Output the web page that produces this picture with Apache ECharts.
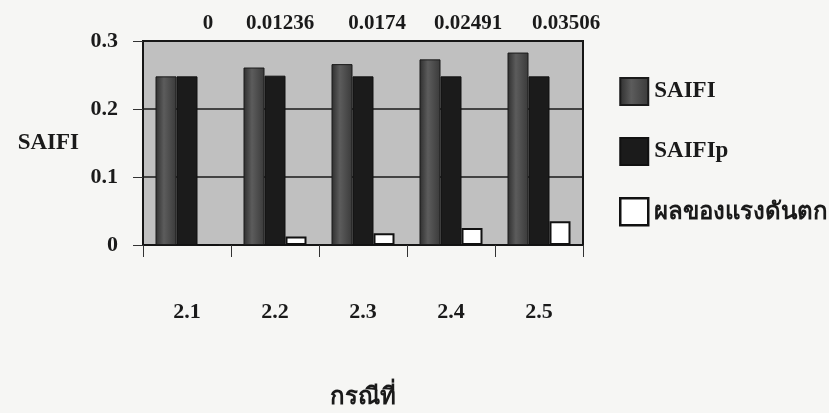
<!DOCTYPE html>
<html>
<head>
<meta charset="utf-8">
<script src="https://cdn.jsdelivr.net/npm/echarts@6/dist/echarts.min.js"></script>
<style>
html,body{margin:0;padding:0;background:#f6f6f4;}
#chart{width:829px;height:413px;}
</style>
</head>
<body>
<div id="chart"></div>
<script>
// ---- data ----
const categories = ['2.1', '2.2', '2.3', '2.4', '2.5'];
const saifi = [0.248, 0.261, 0.266, 0.273, 0.283];
const saifiP = [0.248, 0.249, 0.248, 0.248, 0.248];
const effect = [0, 0.01236, 0.0174, 0.02491, 0.03506];
const effectLabels = ['0', '0.01236', '0.0174', '0.02491', '0.03506'];
const yTicks = ['0', '0.1', '0.2', '0.3'];
const seriesNames = ['SAIFI', 'SAIFIp', 'ผลของแรงดันตก'];

// ---- layout (horizontal shift of the top value labels) ----
const topShift = [21, 5, 14, 17, 27];

const serif = '"Liberation Serif", "DejaVu Serif", serif';
const thai = '"Noto Sans", "DejaVu Sans", sans-serif';

const chart = echarts.init(document.getElementById('chart'));
const rich = {};
topShift.forEach((s, i) => {
  rich['t' + i] = { fontFamily: serif, fontWeight: 'bold', fontSize: 21, color: '#1a1a1a',
    padding: s >= 0 ? [0, 0, 0, 2 * s] : [0, -2 * s, 0, 0] };
});

chart.setOption({
  backgroundColor: '#f6f6f4',
  animation: false,
  grid: { left: 143, right: 246, top: 41, bottom: 168, show: true,
    backgroundColor: '#c0c0c0', borderColor: '#151515', borderWidth: 2 },
  legend: {
    orient: 'vertical', left: 614, top: 72, itemWidth: 28, itemHeight: 27, itemGap: 31,
    icon: 'rect',
    textStyle: { fontFamily: serif, fontWeight: 'bold', fontSize: 23, color: '#1a1a1a', padding: [0, 0, 0, 1] },
    data: [
      { name: seriesNames[0] },
      { name: seriesNames[1] },
      { name: seriesNames[2], itemStyle: { color: '#ffffff', borderColor: '#111', borderWidth: 2.5 },
        textStyle: { fontFamily: thai, fontWeight: 'bold', fontSize: 24 } }
    ]
  },
  xAxis: [
    {
      type: 'category', data: categories, position: 'bottom',
      name: 'กรณีที่', nameLocation: 'middle', nameGap: 140,
      nameTextStyle: { fontFamily: thai, fontWeight: 'bold', fontSize: 24, color: '#1a1a1a' },
      axisLine: { lineStyle: { color: '#151515', width: 2 } },
      axisTick: { show: true, length: 12, lineStyle: { color: '#333', width: 1 } },
      axisLabel: { margin: 56, fontFamily: serif, fontWeight: 'bold', fontSize: 22, color: '#1a1a1a' }
    },
    {
      type: 'category', data: effectLabels, position: 'top',
      axisLine: { show: false }, axisTick: { show: false },
      axisLabel: { margin: 7, formatter: (v, i) => '{t' + i + '|' + v + '}', rich: rich }
    }
  ],
  yAxis: {
    type: 'value', min: 0, max: 0.3, interval: 0.1,
    name: 'SAIFI', nameLocation: 'middle', nameRotate: 0, nameGap: 64,
    nameTextStyle: { fontFamily: serif, fontWeight: 'bold', fontSize: 23, color: '#1a1a1a', padding: [0, 0, 14, 0] },
    axisLine: { show: true, lineStyle: { color: '#151515', width: 2 } },
    axisTick: { show: true, length: 10, lineStyle: { color: '#333', width: 1 } },
    splitLine: { lineStyle: { color: '#1a1a1a', width: 1.5 } },
    axisLabel: { margin: 25, fontFamily: serif, fontWeight: 'bold', fontSize: 22, color: '#1a1a1a',
      formatter: (v) => yTicks[Math.round(v * 10)] }
  },
  series: [
    { name: seriesNames[0], type: 'bar', data: saifi, barWidth: 21, barGap: '0%',
      itemStyle: { color: new echarts.graphic.LinearGradient(0, 0, 1, 0, [
        { offset: 0, color: '#2e2e2e' }, { offset: 0.4, color: '#5c5c5c' }, { offset: 1, color: '#3a3a3a' }]),
        borderColor: '#1a1a1a', borderWidth: 1 } },
    { name: seriesNames[1], type: 'bar', data: saifiP, barWidth: 21,
      itemStyle: { color: '#1b1b1b', borderColor: '#111', borderWidth: 1 } },
    { name: seriesNames[2], type: 'bar', data: effect, barWidth: 21,
      itemStyle: { color: '#ffffff', borderColor: '#111', borderWidth: 2 } }
  ]
});
</script>
</body>
</html>
